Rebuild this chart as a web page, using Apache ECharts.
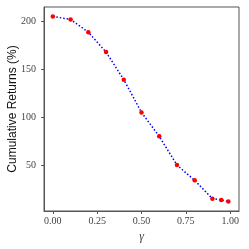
<!DOCTYPE html>
<html><head><meta charset="utf-8">
<script src="https://cdn.jsdelivr.net/npm/echarts@6/dist/echarts.min.js"></script>
<style>html,body{margin:0;padding:0;background:#fff}#c{width:249px;height:249px}</style>
</head><body><div id="c"></div>
<script>
const gammas = [0.0, 0.1, 0.2, 0.3, 0.4, 0.5, 0.6, 0.7, 0.8, 0.9, 0.95, 0.99];
const returns = [205.5, 202.4, 189.1, 168.3, 139.5, 105.3, 80.3, 50.3, 34.3, 15.2, 13.8, 12.1];
const xTicks = [0, 0.25, 0.5, 0.75, 1.0];
const yTicks = [50, 100, 150, 200];

const chart = echarts.init(document.getElementById('c'), null, {renderer: 'canvas'});
const axisCol = '#555';
chart.setOption({
  animation: false,
  grid: {left: 44, right: 10, top: 7, bottom: 38, show: true, borderColor: axisCol, borderWidth: 1,
    containLabel: false, outerBoundsMode: 'none'},
  xAxis: {
    type: 'value', min: -0.05, max: 1.05,
    name: 'γ', nameLocation: 'middle', nameGap: 20, nameMoveOverlap: false,
    nameTextStyle: {fontFamily: 'Liberation Serif', fontStyle: 'italic', fontSize: 12, color: '#444'},
    axisLine: {show: true, onZero: false, lineStyle: {color: axisCol, width: 1}},
    axisTick: {show: true, inside: false, length: 3, customValues: xTicks, lineStyle: {color: axisCol}},
    axisLabel: {customValues: xTicks, margin: 5, fontFamily: 'Liberation Serif', fontSize: 10, color: '#444',
      formatter: v => v.toFixed(2)},
    splitLine: {show: false}
  },
  yAxis: {
    type: 'value', min: 2.3, max: 215.4,
    name: 'Cumulative Returns (%)', nameLocation: 'middle', nameGap: 25, nameMoveOverlap: false,
    nameTextStyle: {fontFamily: 'Liberation Sans', fontSize: 12, color: '#111'},
    axisLine: {show: true, onZero: false, lineStyle: {color: axisCol, width: 1}},
    axisTick: {show: true, inside: false, length: 3, customValues: yTicks, lineStyle: {color: axisCol}},
    axisLabel: {customValues: yTicks, margin: 8, fontFamily: 'Liberation Serif', fontSize: 10, color: '#444'},
    splitLine: {show: false}
  },
  series: [{
    type: 'line',
    data: gammas.map((g, i) => [g, returns[i]]),
    lineStyle: {color: '#0000ff', width: 1.5, type: [1.5, 2]},
    symbol: 'circle', symbolSize: 4.5,
    itemStyle: {color: '#ff0000', borderWidth: 0},
    z: 3
  }]
});
</script></body></html>
